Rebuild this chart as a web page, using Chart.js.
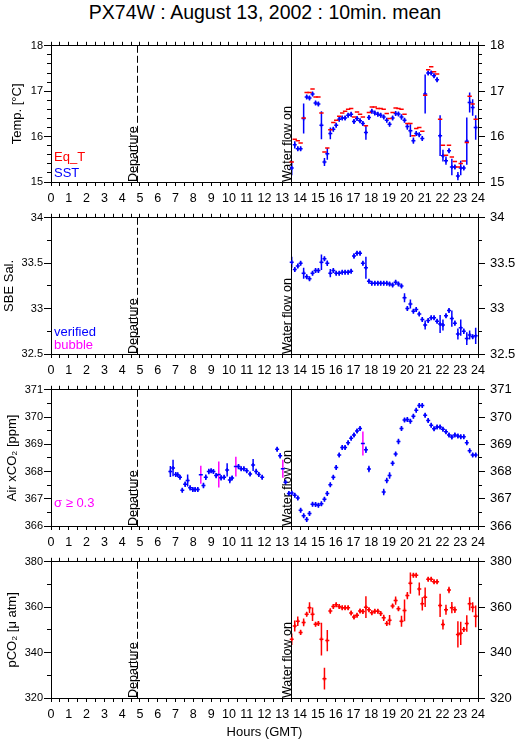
<!DOCTYPE html>
<html><head><meta charset="utf-8">
<script src="https://cdn.jsdelivr.net/npm/chart.js@4.4.0/dist/chart.umd.min.js"></script>
<style>
html,body{margin:0;padding:0;background:#fff;width:515px;height:739px;overflow:hidden;position:relative}
#title{position:absolute;left:0;width:530px;top:2px;text-align:center;font-family:'Liberation Sans',Arial,sans-serif;font-size:19.5px;line-height:20px;color:#000;white-space:nowrap}
canvas{position:absolute;left:0}
</style></head><body>
<div id="title">PX74W : August 13, 2002 : 10min. mean</div>
<canvas id="c0" width="515" height="172" style="top:30px"></canvas>
<canvas id="c1" width="515" height="172" style="top:202px"></canvas>
<canvas id="c2" width="515" height="172" style="top:374px"></canvas>
<canvas id="c3" width="515" height="193" style="top:546px"></canvas>
<script>
// ---------- data ----------
const departureHour = 4.83;
const waterOnHour = 13.48;
const hourTicks = [0,1,2,3,4,5,6,7,8,9,10,11,12,13,14,15,16,17,18,19,20,21,22,23,24];

const hours = [13.53,13.70,13.87,14.03,14.20,14.37,14.53,14.70,14.87,15.03,15.20,15.37,15.53,15.70,15.87,16.03,16.20,16.37,16.53,16.70,16.87,17.03,17.20,17.37,17.53,17.70,17.87,18.03,18.20,18.37,18.53,18.70,18.87,19.03,19.20,19.37,19.53,19.70,19.87,20.03,20.20,20.37,20.53,20.70,20.87,21.03,21.20,21.37,21.53,21.70,21.87,22.03,22.20,22.37,22.53,22.70,22.87,23.03,23.20,23.37,23.53,23.70,23.87];

const eqT = [15.44,15.94,15.91,15.86,16.41,16.97,16.97,17.05,16.87,16.87,16.52,15.66,15.75,16.15,16.31,16.36,16.45,16.52,16.56,16.60,16.62,16.43,16.54,16.49,16.43,16.24,16.53,16.65,16.65,16.62,16.62,16.60,16.51,16.40,16.53,16.63,16.62,16.60,16.49,16.29,16.29,16.02,16.18,16.20,16.12,16.91,17.47,17.54,17.43,17.38,16.38,15.81,15.59,15.81,15.55,15.45,15.33,15.41,15.46,15.87,16.89,16.72,16.38];
const sst = [15.31,15.82,15.73,15.73,16.40,16.87,16.85,16.94,16.74,16.72,16.25,15.44,15.62,16.07,16.16,16.25,16.38,16.41,16.41,16.47,16.49,16.33,16.40,16.35,16.29,16.09,16.42,16.56,16.52,16.49,16.47,16.43,16.36,16.27,16.41,16.51,16.50,16.43,16.36,16.22,16.13,15.91,16.07,16.04,15.96,16.94,17.40,17.40,17.34,17.25,16.02,15.58,15.47,15.69,15.33,15.33,15.13,15.31,15.31,15.90,16.75,16.64,16.20];
const sstErr = [0.16,0.08,0.05,0.05,0.33,0.03,0.03,0.05,0.03,0.03,0.31,0.09,0.13,0.13,0.05,0.05,0.03,0.03,0.02,0.03,0.06,0.05,0.03,0.03,0.03,0.16,0.05,0.03,0.02,0.02,0.02,0.04,0.03,0.03,0.05,0.05,0.03,0.06,0.04,0.07,0.14,0.07,0.04,0.03,0.05,0.43,0.03,0.03,0.02,0.04,0.45,0.13,0.09,0.05,0.18,0.05,0.09,0.16,0.05,0.52,0.22,0.18,0.27];

const sal = [33.51,33.43,33.47,33.50,33.39,33.35,33.33,33.39,33.42,33.42,33.51,33.55,33.50,33.39,33.42,33.39,33.39,33.40,33.40,33.40,33.41,33.58,33.61,33.61,33.50,33.45,33.30,33.28,33.28,33.28,33.28,33.28,33.28,33.27,33.26,33.29,33.27,33.25,33.12,33.00,33.05,32.97,32.99,32.94,32.88,32.82,32.87,32.90,32.90,32.86,32.83,32.82,32.92,32.98,32.89,32.84,32.72,32.79,32.75,32.67,32.71,32.69,32.70];
const salErr = [0.06,0.02,0.02,0.01,0.06,0.02,0.02,0.02,0.01,0.01,0.085,0.02,0.03,0.045,0.02,0.01,0.01,0.01,0.01,0.01,0.01,0.03,0.01,0.01,0.02,0.12,0.01,0.01,0.01,0.01,0.01,0.01,0.01,0.01,0.01,0.01,0.01,0.01,0.05,0.02,0.05,0.01,0.01,0.01,0.02,0.05,0.01,0.01,0.01,0.01,0.10,0.06,0.02,0.01,0.09,0.03,0.06,0.09,0.03,0.07,0.05,0.02,0.09];

const co2Hours = [6.71,6.86,7.01,7.12,7.25,7.38,7.54,7.68,7.82,7.97,8.10,8.25,8.42,8.57,8.70,8.87,9.00,9.13,9.28,9.43,9.56,9.73,9.90,10.05,10.18,10.39,10.54,10.69,10.84,11.00,11.19,11.36,11.53,11.68,11.87,12.71,12.88,13.03,13.18,13.37,
13.53,13.70,13.87,14.03,14.20,14.37,14.53,14.70,14.87,15.03,15.20,15.37,15.53,15.70,15.87,16.03,16.20,16.37,16.53,16.70,16.87,17.03,17.20,17.37,17.53,17.70,17.87,
18.70,18.87,19.03,19.20,19.37,19.53,19.70,19.87,20.03,20.20,20.37,20.53,20.70,20.87,21.03,21.20,21.37,21.53,21.70,21.87,22.03,22.20,22.37,22.53,22.70,22.87,23.03,23.20,23.37,23.53,23.70,23.87];
const co2 = [368.00,368.13,367.89,367.88,367.79,367.31,367.53,367.67,367.40,367.34,367.34,367.34,367.88,367.49,367.79,368.00,368.03,368.00,367.85,367.89,367.77,367.79,368.06,367.69,367.76,368.18,368.18,368.10,368.10,368.03,367.91,368.24,368.00,367.89,367.79,368.82,368.58,368.10,367.61,367.19,
367.21,367.13,367.03,366.58,366.38,366.24,366.46,366.80,366.79,366.76,366.82,366.98,367.19,367.51,367.79,368.15,368.61,368.88,368.88,369.06,369.22,369.34,369.49,369.58,369.03,368.80,368.09,
367.25,367.67,367.85,368.30,368.64,369.10,369.58,369.89,369.91,369.85,370.03,370.25,370.42,370.42,370.07,369.87,369.70,369.57,369.63,369.63,369.55,369.46,369.34,369.27,369.34,369.30,369.28,369.28,369.06,368.76,368.61,368.61];
const co2Err = [0.20,0.30,0.08,0.06,0.06,0.08,0.10,0.22,0.10,0.04,0.03,0.03,0.33,0.10,0.10,0.10,0.06,0.04,0.10,0.48,0.10,0.06,0.24,0.12,0.06,0.36,0.10,0.04,0.03,0.03,0.04,0.22,0.10,0.05,0.05,0.08,0.10,0.33,0.10,0.08,
0.05,0.04,0.05,0.08,0.08,0.05,0.08,0.05,0.03,0.03,0.03,0.04,0.05,0.06,0.06,0.08,0.08,0.05,0.03,0.06,0.05,0.04,0.05,0.04,0.44,0.12,0.12,
0.12,0.10,0.12,0.08,0.08,0.10,0.08,0.05,0.03,0.03,0.05,0.08,0.05,0.05,0.08,0.04,0.05,0.03,0.03,0.03,0.03,0.03,0.03,0.03,0.03,0.03,0.03,0.03,0.10,0.08,0.03,0.03];
const co2FlagHours = [8.42,9.43,10.39,13.03,17.53];

const pco2 = [345.9,351.7,353.8,348.9,353.3,356.9,359.8,356.9,352.5,352.8,345.9,328.5,345.3,358.3,360.3,361.1,360.3,359.8,359.8,359.8,357.4,355.7,356.4,358.3,358.1,360.0,358.9,357.6,358.2,358.2,357.2,355.3,352.8,354.3,360.5,362.9,359.3,353.8,358.6,365.1,370.6,374.1,374.1,368.0,361.5,364.4,372.3,372.3,371.2,371.2,360.8,352.4,358.9,367.6,359.8,358.9,348.0,348.5,350.2,352.8,361.5,360.0,356.0];
const pco2Err = [2.5,2.4,2.1,1.2,1.7,1.1,2.4,3.0,0.5,0.5,7.2,4.8,4.7,1.2,0.5,0.5,0.4,0.3,0.3,0.3,0.8,1.1,0.7,1.1,0.5,4.8,0.6,0.4,0.4,0.3,0.4,1.4,0.5,2.3,1.0,1.8,0.5,2.4,4.8,1.6,4.7,1.1,0.4,2.9,2.9,4.3,0.4,0.4,0.4,0.4,5.1,2.2,2.2,1.4,2.5,1.4,5.8,5.1,1.1,3.6,2.9,2.2,4.8];

const tempMajor = [15,16,17,18];
const salMajor = [32.5,33,33.5,34];
const co2Major = [366,367,368,369,370,371];
const pco2Major = [320,340,360,380];

// ---------- helpers ----------
const BLUE = '#0000ff', RED = '#ff0000', MAG = '#ff00ff';
const FONT = "'Liberation Sans', Arial, sans-serif";
Chart.defaults.font.family = FONT;
Chart.defaults.color = '#000';

function steps(a, b, s) { const out = []; const n = Math.round((b - a) / s); for (let i = 0; i <= n; i++) out.push(+(a + i * s).toFixed(6)); return out; }
function pts(xs, ys) { return xs.map((x, i) => ({x, y: ys[i]})); }

const errPlugin = {
  id: 'errbars',
  beforeDatasetsDraw(chart) {
    const ctx = chart.ctx, ca = chart.chartArea;
    ctx.save();
    ctx.beginPath(); ctx.rect(ca.left, ca.top, ca.right - ca.left, ca.bottom - ca.top); ctx.clip();
    chart.data.datasets.forEach((ds, di) => {
      if (!ds.errors) return;
      const meta = chart.getDatasetMeta(di);
      const xs = chart.scales[meta.xAxisID], ys = chart.scales[meta.yAxisID];
      ctx.strokeStyle = ds.errColor || ds.borderColor;
      ctx.lineWidth = 1.5;
      ds.data.forEach((p, i) => {
        const e = ds.errors[i];
        const x = xs.getPixelForValue(p.x);
        let y1 = ys.getPixelForValue(p.y + e), y2 = ys.getPixelForValue(p.y - e);
        const yc = ys.getPixelForValue(p.y);
        y1 = Math.min(y1, yc - 2.5); y2 = Math.max(y2, yc + 2.5);
        ctx.beginPath(); ctx.moveTo(x, y1); ctx.lineTo(x, y2); ctx.stroke();
      });
    });
    ctx.restore();
  }
};

const marksPlugin = {
  id: 'marks',
  beforeDatasetsDraw(chart, args, opts) {
    const ctx = chart.ctx, ca = chart.chartArea, xs = chart.scales.x;
    ctx.save();
    ctx.strokeStyle = '#000'; ctx.lineWidth = 1;
    const xd = Math.round(xs.getPixelForValue(departureHour)) + 0.5;
    ctx.setLineDash([7, 3]);
    ctx.beginPath(); ctx.moveTo(xd, ca.top); ctx.lineTo(xd, ca.bottom); ctx.stroke();
    ctx.setLineDash([]);
    const xw = Math.round(xs.getPixelForValue(waterOnHour)) + 0.5;
    ctx.beginPath(); ctx.moveTo(xw, ca.top); ctx.lineTo(xw, ca.bottom); ctx.stroke();
    ctx.fillStyle = '#000'; ctx.textAlign = 'left'; ctx.textBaseline = 'alphabetic';
    ctx.font = '12.5px ' + FONT;
    [[xd - 1, 'Departure'], [xw - 0.5, 'Water flow on']].forEach(([x, t]) => {
      ctx.save(); ctx.translate(x, ca.bottom); ctx.rotate(-Math.PI / 2); ctx.fillText(t, 0, 0); ctx.restore();
    });
    ctx.font = '13px ' + FONT;
    (opts.legend || []).forEach(l => { ctx.fillStyle = l.color; ctx.fillText(l.text, ca.left + 3, ca.bottom + l.dy); });
    ctx.restore();
  }
};

function panel(id, H, o) {
  const minor = steps(o.min, o.max, o.minorStep);
  const isMajor = v => o.major.some(m => Math.abs(m - v) < 1e-6);
  const lbl = v => isMajor(v) ? String(+v.toFixed(2)) : '';
  const yBase = (pos, weight, labelled) => ({
    type: 'linear', position: pos, min: o.min, max: o.max, weight,
    afterBuildTicks: a => { a.ticks = (labelled ? minor : o.major).map(v => ({value: v})); },
    afterFit: a => { a.width = labelled ? (pos === 'left' ? 51 : 37) : 0; },
    grid: {drawOnChartArea: false, tickLength: labelled ? 4 : 7, color: '#000', tickColor: '#000', tickWidth: 1},
    border: {display: true, color: '#000', width: 1},
    ticks: {display: labelled, autoSkip: false, callback: lbl, color: '#000',
      padding: pos === 'left' ? 4 : 8,
      font: {size: pos === 'left' ? 11 : 13, family: FONT}}
  });
  const yl = yBase('left', 2, true);
  yl.title = {display: true, text: o.title, color: '#000', font: {size: 13, family: FONT, lineHeight: 1.2}, padding: {top: o.titlePad, bottom: 0}};
  const scales = {
    x: {type: 'linear', position: 'bottom', min: 0, max: 24,
      afterBuildTicks: a => { a.ticks = steps(0, 24, 0.5).map(v => ({value: v})); },
      afterFit: a => { a.height = H - 14 - 138; },
      grid: {drawOnChartArea: false, tickLength: 4, color: '#000', tickColor: '#000'},
      border: {display: true, color: '#000', width: 1},
      ticks: {autoSkip: false, maxRotation: 0, minRotation: 0, padding: 5, color: '#000',
        callback: v => hourTicks.includes(v) ? String(v) : '',
        font: {size: 12.5, family: "'Liberation Sans Narrow', 'Liberation Sans', Arial, sans-serif"}},
      title: {display: !!o.xTitle, text: o.xTitle || '', color: '#000', font: {size: 13, family: FONT, lineHeight: 1}, padding: {top: 0, bottom: 0}}
    },
    xt: {type: 'linear', position: 'top', min: 0, max: 24,
      afterBuildTicks: a => { a.ticks = steps(0, 24, 0.5).map(v => ({value: v})); },
      afterFit: a => { a.height = 0; },
      grid: {drawOnChartArea: false, tickLength: 4, color: '#000', tickColor: '#000'},
      border: {display: true, color: '#000', width: 1},
      ticks: {display: false, autoSkip: false}
    },
    y: yl,
    yl2: yBase('left', 0, false),
    yr2: yBase('right', 0, false),
    yr: yBase('right', 2, true)
  };
  return new Chart(document.getElementById(id), {
    type: 'scatter',
    data: {datasets: o.datasets},
    options: {
      responsive: false, animation: false, events: [],
      layout: {padding: {top: 14, left: 0, right: 0, bottom: 0}},
      plugins: {legend: {display: false}, tooltip: {enabled: false}, marks: {legend: o.legend}},
      scales
    },
    plugins: [errPlugin, marksPlugin]
  });
}

const crossDs = (data, errs, color, errColor, style) => ({
  data, errors: errs, errColor: errColor || color, borderColor: color, backgroundColor: color,
  pointStyle: style || 'cross', pointRadius: 2, borderWidth: 1.5, showLine: false, yAxisID: 'y', xAxisID: 'x'
});

// Panel 1: temperature
panel('c0', 172, {
  min: 15, max: 18, minorStep: 0.2, major: tempMajor, title: 'Temp. [°C]', titlePad: 9.5,
  legend: [{text: 'Eq_T', color: RED, dy: -21}, {text: 'SST', color: BLUE, dy: -5}],
  datasets: [
    Object.assign(crossDs(pts(hours, eqT), null, RED, null, 'line'), {pointRadius: 2.2}),
    crossDs(pts(hours, sst), sstErr, BLUE)
  ]
});

// Panel 2: salinity
panel('c1', 172, {
  min: 32.5, max: 34, minorStep: 0.25, major: salMajor, title: 'SBE Sal.', titlePad: 1.5,
  legend: [{text: 'verified', color: BLUE, dy: -18}, {text: 'bubble', color: MAG, dy: -5}],
  datasets: [crossDs(pts(hours, sal), salErr, BLUE)]
});

// Panel 3: air xCO2
const isFlag = h => co2FlagHours.includes(h);
const okIdx = co2Hours.map((h, i) => i).filter(i => !isFlag(co2Hours[i]));
const flIdx = co2Hours.map((h, i) => i).filter(i => isFlag(co2Hours[i]));
panel('c2', 172, {
  min: 366, max: 371, minorStep: 0.5, major: co2Major, title: 'Air xCO₂ [ppm]', titlePad: 4.5,
  legend: [{text: 'σ ≥ 0.3', color: MAG, dy: -19}],
  datasets: [
    crossDs(flIdx.map(i => ({x: co2Hours[i], y: co2[i]})), flIdx.map(i => co2Err[i]), BLUE, MAG, 'line'),
    crossDs(okIdx.map(i => ({x: co2Hours[i], y: co2[i]})), okIdx.map(i => co2Err[i]), BLUE)
  ]
});

// Panel 4: pCO2
panel('c3', 193, {
  min: 320, max: 380, minorStep: 10, major: pco2Major, title: 'pCO₂ [μ atm]', titlePad: 4.5, xTitle: 'Hours (GMT)',
  legend: [],
  datasets: [crossDs(pts(hours, pco2), pco2Err, RED)]
});
</script>
</body></html>
